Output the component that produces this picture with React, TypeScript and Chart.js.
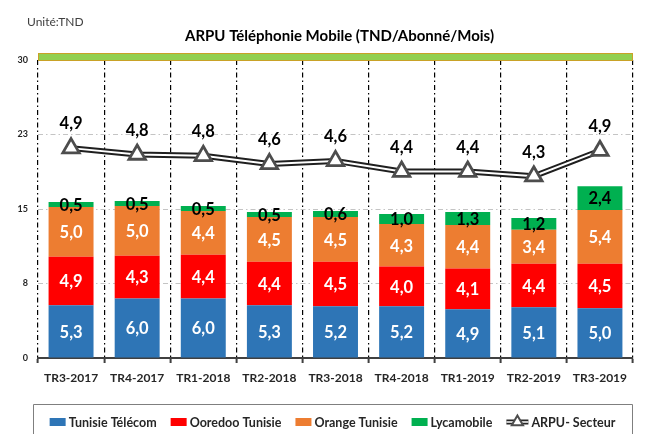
import React, { useEffect, useRef } from "react";
import { Chart, registerables } from "chart.js";

Chart.register(...registerables);

// ---------- data ----------
const categories = [
  "TR3-2017", "TR4-2017", "TR1-2018", "TR2-2018", "TR3-2018",
  "TR4-2018", "TR1-2019", "TR2-2019", "TR3-2019",
];
const tunisieTelecom = [5.3, 6.0, 6.0, 5.3, 5.2, 5.2, 4.9, 5.1, 5.0];
const ooredooTunisie = [4.9, 4.3, 4.4, 4.4, 4.5, 4.0, 4.1, 4.4, 4.5];
const orangeTunisie = [5.0, 5.0, 4.4, 4.5, 4.5, 4.3, 4.4, 3.4, 5.4];
const lycamobile = [0.5, 0.5, 0.5, 0.5, 0.6, 1.0, 1.3, 1.2, 2.4];
const arpuSecteur = [4.93, 4.78, 4.75, 4.56, 4.63, 4.38, 4.38, 4.27, 4.87];

const seriesNames = ["Tunisie Télécom", "Ooredoo Tunisie", "Orange Tunisie", "Lycamobile", "ARPU- Secteur"];
const leftAxis = { min: 0, max: 30, step: 7.5 };
const rightAxis = { min: 0, max: 7, step: 1.4 };
const TITLE = "ARPU Téléphonie Mobile (TND/Abonné/Mois)";
const UNIT = "Unité:TND";

// ---------- styles ----------
const FONT = "Lato, 'Noto Sans', sans-serif";
const C_TT = "#2E75B6";
const C_OO = "#FF0000";
const C_OR = "#ED7D31";
const C_LY = "#00B050";

const fmt = (v: number) => v.toFixed(1).replace(".", ",");

function drawTriangle(ctx: CanvasRenderingContext2D, x: number, y: number, r: number, lw: number) {
  ctx.beginPath();
  for (let k = 0; k < 3; k++) {
    const a = (k * 2 * Math.PI) / 3;
    const px = x + Math.sin(a) * r;
    const py = y - Math.cos(a) * r;
    if (k === 0) ctx.moveTo(px, py);
    else ctx.lineTo(px, py);
  }
  ctx.closePath();
  ctx.fillStyle = "#fff";
  ctx.fill();
  ctx.lineWidth = lw;
  ctx.strokeStyle = "#4d4d4d";
  ctx.stroke();
}

const decorPlugin = {
  id: "decor",
  beforeDraw(chart: any) {
    const { ctx, chartArea } = chart;
    ctx.save();
    ctx.fillStyle = "#fff";
    ctx.fillRect(0, 0, chart.width, chart.height);
    ctx.textBaseline = "middle";
    ctx.textAlign = "left";
    ctx.fillStyle = "#404040";
    ctx.font = `12px ${FONT}`;
    ctx.fillText(UNIT, chartArea.left - 11, chartArea.top - 38);
    ctx.textAlign = "center";
    ctx.fillStyle = "#000";
    ctx.font = `bold 15px ${FONT}`;
    ctx.fillText(TITLE, (chartArea.left + chartArea.right) / 2 + 4, chartArea.top - 24);
    ctx.restore();
  },
  beforeDatasetsDraw(chart: any) {
    const { ctx, chartArea } = chart;
    ctx.save();
    ctx.fillStyle = "#92D050";
    ctx.fillRect(chartArea.left, chartArea.top - 7, chartArea.right - chartArea.left, 7);
    ctx.strokeStyle = "#C9A227";
    ctx.lineWidth = 1;
    ctx.strokeRect(chartArea.left + 0.5, chartArea.top - 6.5, chartArea.right - chartArea.left - 1, 7);
    ctx.restore();
  },
  afterDatasetsDraw(chart: any) {
    const ctx = chart.ctx;
    ctx.save();
    ctx.textAlign = "center";
    ctx.textBaseline = "middle";
    ctx.font = `bold 16.5px ${FONT}`;
    chart.data.datasets.forEach((ds: any, di: number) => {
      if (!ds.labelColor) return;
      const meta = chart.getDatasetMeta(di);
      meta.data.forEach((el: any, i: number) => {
        const text = fmt(ds.data[i]);
        ctx.fillStyle = ds.labelColor;
        if (meta.type === "bar") {
          const p = el.getProps(["x", "y", "base"], true);
          ctx.fillText(text, p.x, (p.y + p.base) / 2 + 1);
        } else {
          const p = el.getProps(["x", "y"], true);
          ctx.fillText(text, p.x, p.y - 24);
        }
      });
    });
    ctx.restore();
  },
  afterDraw(chart: any) {
    const { ctx, chartArea } = chart;
    ctx.save();
    const boxL = chartArea.left - 5;
    const boxR = chartArea.right - 1;
    const boxT = chart.height - 30;
    ctx.strokeStyle = "#7f7f7f";
    ctx.lineWidth = 1;
    ctx.beginPath();
    ctx.moveTo(boxL + 0.5, chart.height + 2);
    ctx.lineTo(boxL + 0.5, boxT + 0.5);
    ctx.lineTo(boxR + 0.5, boxT + 0.5);
    ctx.lineTo(boxR + 0.5, chart.height + 2);
    ctx.stroke();

    const items = chart.data.datasets
      .filter((ds: any) => ds.legendText)
      .map((ds: any) => ({ text: ds.legendText, color: ds.type === "line" ? null : ds.backgroundColor }));
    ctx.font = `bold 12.5px ${FONT}`;
    const iconW = (it: any) => (it.color ? 16 : 22);
    const gapIcon = 3;
    const gapItem = 14;
    let total = 0;
    items.forEach((it: any, i: number) => {
      total += iconW(it) + gapIcon + ctx.measureText(it.text).width + (i < items.length - 1 ? gapItem : 0);
    });
    let x = (boxL + boxR) / 2 - total / 2;
    const yc = boxT + 18;
    ctx.textAlign = "left";
    ctx.textBaseline = "middle";
    items.forEach((it: any) => {
      const w = iconW(it);
      if (it.color) {
        ctx.fillStyle = it.color;
        ctx.fillRect(x, yc - 4, w, 8);
      } else {
        ctx.strokeStyle = "#262626";
        ctx.lineWidth = 5;
        ctx.beginPath();
        ctx.moveTo(x, yc);
        ctx.lineTo(x + w, yc);
        ctx.stroke();
        ctx.strokeStyle = "#fff";
        ctx.lineWidth = 1.5;
        ctx.beginPath();
        ctx.moveTo(x, yc);
        ctx.lineTo(x + w, yc);
        ctx.stroke();
        drawTriangle(ctx, x + w / 2, yc, 6.5, 2);
      }
      x += w + gapIcon;
      ctx.fillStyle = "#262626";
      ctx.fillText(it.text, x, yc + 1);
      x += ctx.measureText(it.text).width + gapItem;
    });
    ctx.restore();
  },
};

export default function App() {
  const ref = useRef<HTMLCanvasElement | null>(null);

  useEffect(() => {
    if (!ref.current) return;
    const barCommon = {
      type: "bar" as const,
      yAxisID: "y",
      stack: "s",
      order: 2,
      barPercentage: 0.68,
      categoryPercentage: 1,
      borderWidth: 0,
    };
    const chart = new Chart(ref.current, {
      type: "bar",
      data: {
        labels: categories,
        datasets: [
          { ...barCommon, label: seriesNames[0], legendText: seriesNames[0], data: tunisieTelecom, backgroundColor: C_TT, labelColor: "#fff" } as any,
          { ...barCommon, label: seriesNames[1], legendText: seriesNames[1], data: ooredooTunisie, backgroundColor: C_OO, labelColor: "#fff" } as any,
          { ...barCommon, label: seriesNames[2], legendText: seriesNames[2], data: orangeTunisie, backgroundColor: C_OR, labelColor: "#fff" } as any,
          { ...barCommon, label: seriesNames[3], legendText: seriesNames[3], data: lycamobile, backgroundColor: C_LY, labelColor: "#000" } as any,
          {
            type: "line",
            label: seriesNames[4] + " outline",
            data: arpuSecteur,
            yAxisID: "y1",
            order: 1,
            borderColor: "#1f1f1f",
            borderWidth: 6,
            pointRadius: 0,
            tension: 0,
            fill: false,
          } as any,
          {
            type: "line",
            label: seriesNames[4],
            legendText: seriesNames[4],
            labelColor: "#000",
            data: arpuSecteur,
            yAxisID: "y1",
            order: 0,
            borderColor: "#ffffff",
            borderWidth: 2,
            pointStyle: "triangle",
            pointRadius: 9.5,
            pointBackgroundColor: "#ffffff",
            pointBorderColor: "#4d4d4d",
            pointBorderWidth: 2.8,
            tension: 0,
            fill: false,
          } as any,
        ],
      },
      options: {
        responsive: false,
        devicePixelRatio: 1,
        animation: false,
        layout: { padding: { left: 0, right: 7, top: 60, bottom: 30 } },
        plugins: {
          legend: { display: false },
          tooltip: { enabled: false },
          title: { display: false },
        },
        scales: {
          x: {
            stacked: true,
            offset: true,
            grid: {
              offset: true,
              color: "#000",
              lineWidth: 1.2,
              drawTicks: true,
              tickLength: 5,
              tickColor: "#404040",
              tickWidth: 2,
              tickBorderDash: [],
            },
            border: { display: true, color: "#404040", width: 2, dash: [5, 3, 1.5, 3] },
            ticks: {
              font: { family: FONT, size: 12, weight: "bold" },
              color: "#262626",
              padding: 8,
              maxRotation: 0,
              autoSkip: false,
            },
            afterFit(s: any) {
              s.height = 46;
            },
          },
          y: {
            stacked: true,
            min: leftAxis.min,
            max: leftAxis.max,
            ticks: {
              stepSize: leftAxis.step,
              callback: (v: any) => String(Math.round(Number(v))),
              font: { family: FONT, size: 9, weight: "bold" },
              color: "#262626",
              padding: 10,
            },
            grid: {
              color: (c: any) => (c.tick && c.tick.value === 0 ? "rgba(0,0,0,0)" : "#c4c4c4"),
              lineWidth: 1,
              drawTicks: false,
            },
            border: { display: false, dash: [5, 3, 1.5, 3] },
            afterFit(s: any) {
              s.width = 38;
            },
          },
          y1: {
            position: "right",
            stacked: false,
            min: rightAxis.min,
            max: rightAxis.max,
            ticks: {
              stepSize: rightAxis.step,
              callback: (v: any) => String(Math.round(Number(v))),
              font: { family: FONT, size: 9, weight: "bold" },
              color: "#404040",
              padding: 8,
            },
            grid: { display: false },
            border: { display: false },
            afterFit(s: any) {
              s.width = 30;
            },
          },
        },
      } as any,
      plugins: [decorPlugin],
    });
    return () => chart.destroy();
  }, []);

  return (
    <div
      style={{
        position: "fixed",
        left: 0,
        top: 0,
        width: 646,
        height: 434,
        overflow: "hidden",
        background: "#fff",
      }}
    >
      <canvas ref={ref} width={670} height={434} style={{ display: "block", width: 670, height: 434 }} />
    </div>
  );
}
